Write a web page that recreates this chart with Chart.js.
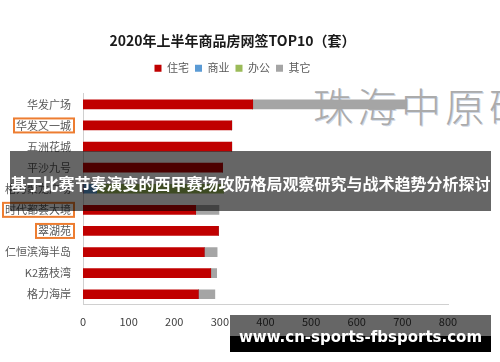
<!DOCTYPE html>
<html>
<head>
<meta charset="utf-8">
<script src="https://cdn.jsdelivr.net/npm/chart.js@4"></script>
<style>
    html, body { margin: 0; padding: 0; background: #fff; }
    #wrap { position: relative; width: 500px; height: 362px; overflow: hidden; }
    #wm {
        position: absolute; left: 313px; top: 76px; white-space: nowrap;
        font-family: "Noto Sans CJK SC", sans-serif; font-size: 40px; font-weight: 300;
        letter-spacing: 4px; color: #ababab; text-shadow: 1px 1px 0 #cfd8e6;
    }
    #chart { position: absolute; left: 0; top: 0; }
    #banner {
        position: absolute; left: 10px; top: 151px; width: 481px; height: 60px;
        background: rgba(0, 0, 0, 0.6); color: #fff;
        font-family: "Noto Sans CJK SC", sans-serif; font-weight: bold; font-size: 16px;
        line-height: 64px; text-align: center; white-space: nowrap;
    }
    #site {
        position: absolute; left: 230px; top: 315px; width: 261px; height: 37px;
        background: linear-gradient(to bottom, rgba(0,0,0,0.6) 0, rgba(0,0,0,0.6) 57%, #000 57%, #000 100%);
        color: #fff; font-family: "DejaVu Sans", sans-serif; font-weight: bold; font-size: 15px;
        line-height: 44px; text-align: center; white-space: nowrap;
    }
</style>
</head>
<body>
<div id="wrap">
    <div id="wm">珠海中原研</div>
    <canvas id="chart" width="500" height="362"></canvas>
    <div id="banner">基于比赛节奏演变的西甲赛场攻防格局观察研究与战术趋势分析探讨</div>
    <div id="site">www.cn-sports-fbsports.com</div>
</div>
<script>
// 2020年上半年商品房网签TOP10（套）
const projetos = ["华发广场", "华发又一城", "五洲花城", "平沙九号", "格力聚龙广场",
                  "时代都荟大境", "翠湖苑", "仁恒滨海半岛", "K2荔枝湾", "格力海岸"];
const residencial = [372, 326, 326, 306, 0, 247, 297, 266, 280, 253];
const comercial   = [0, 0, 0, 0, 30, 0, 0, 0, 0, 0];
const escritorio  = [0, 0, 0, 0, 278, 0, 0, 0, 0, 0];
const outros      = [338, 0, 0, 0, 0, 51, 0, 28, 13, 36];
const ticksX = [0, 100, 200, 300, 400, 500, 600, 700, 800];
const destacados = ["华发又一城", "时代都荟大境", "翠湖苑"];

const FONTE = '"Noto Sans CJK SC", sans-serif';

// caixas laranja em volta de alguns nomes
const caixas = {
    id: "caixas",
    afterDraw(chart) {
        const ctx = chart.ctx;
        const y = chart.scales.y;
        ctx.save();
        ctx.font = "11px " + FONTE;
        ctx.strokeStyle = "#ED7D31";
        ctx.lineWidth = 2;
        destacados.forEach(nome => {
            const i = projetos.indexOf(nome);
            const yc = y.getPixelForValue(i);
            const dir = y.right - 12;
            const w = ctx.measureText(nome).width;
            ctx.strokeRect(dir - w - 2, yc - 7, w + 5, 14);
        });
        ctx.restore();
    }
};

// mais espaco abaixo da legenda
const espacoLegenda = {
    id: "espacoLegenda",
    beforeInit(chart) {
        const fitOrig = chart.legend.fit;
        chart.legend.fit = function () {
            fitOrig.bind(chart.legend)();
            this.height += 10;
        };
    }
};

new Chart(document.getElementById("chart"), {
    type: "bar",
    data: {
        labels: projetos,
        datasets: [
            { label: "住宅", data: residencial, backgroundColor: "#C00000" },
            { label: "商业", data: comercial, backgroundColor: "#5B9BD5" },
            { label: "办公", data: escritorio, backgroundColor: "#9BBB59" },
            { label: "其它", data: outros, backgroundColor: "#A5A5A5" }
        ]
    },
    options: {
        indexAxis: "y",
        responsive: false,
        animation: false,
        barThickness: 9,
        layout: { padding: { left: 0, right: 35, top: 0, bottom: 24 } },
        plugins: {
            title: {
                display: true,
                text: "2020年上半年商品房网签TOP10（套）",
                color: "#1a1a1a",
                font: { family: FONTE, size: 14, weight: "bold" },
                padding: { top: 32, bottom: 8 }
            },
            legend: {
                labels: {
                    boxWidth: 7, boxHeight: 7, padding: 6, color: "#595959",
                    font: { family: FONTE, size: 11 }
                }
            },
            tooltip: { enabled: false }
        },
        scales: {
            x: {
                stacked: true, min: 0, max: 800,
                grid: { display: false, drawTicks: false },
                border: { display: true, color: "#d0d0d0" },
                afterBuildTicks: s => { s.ticks = ticksX.map(v => ({ value: v })); },
                ticks: { color: "#404040", padding: 10, font: { family: FONTE, size: 11 } }
            },
            y: {
                stacked: true,
                grid: { display: false, drawTicks: false },
                border: { display: true, color: "#d0d0d0" },
                afterFit: s => { s.width = 83; },
                ticks: { color: "#595959", padding: 12, font: { family: FONTE, size: 11 } }
            },
            // eixo vazio a direita, so para reservar espaco
            y2: {
                position: "right",
                grid: { display: false, drawTicks: false },
                border: { display: false },
                ticks: { display: false },
                afterFit: s => { s.width = 17; }
            }
        }
    },
    plugins: [caixas, espacoLegenda]
});
</script>
</body>
</html>
